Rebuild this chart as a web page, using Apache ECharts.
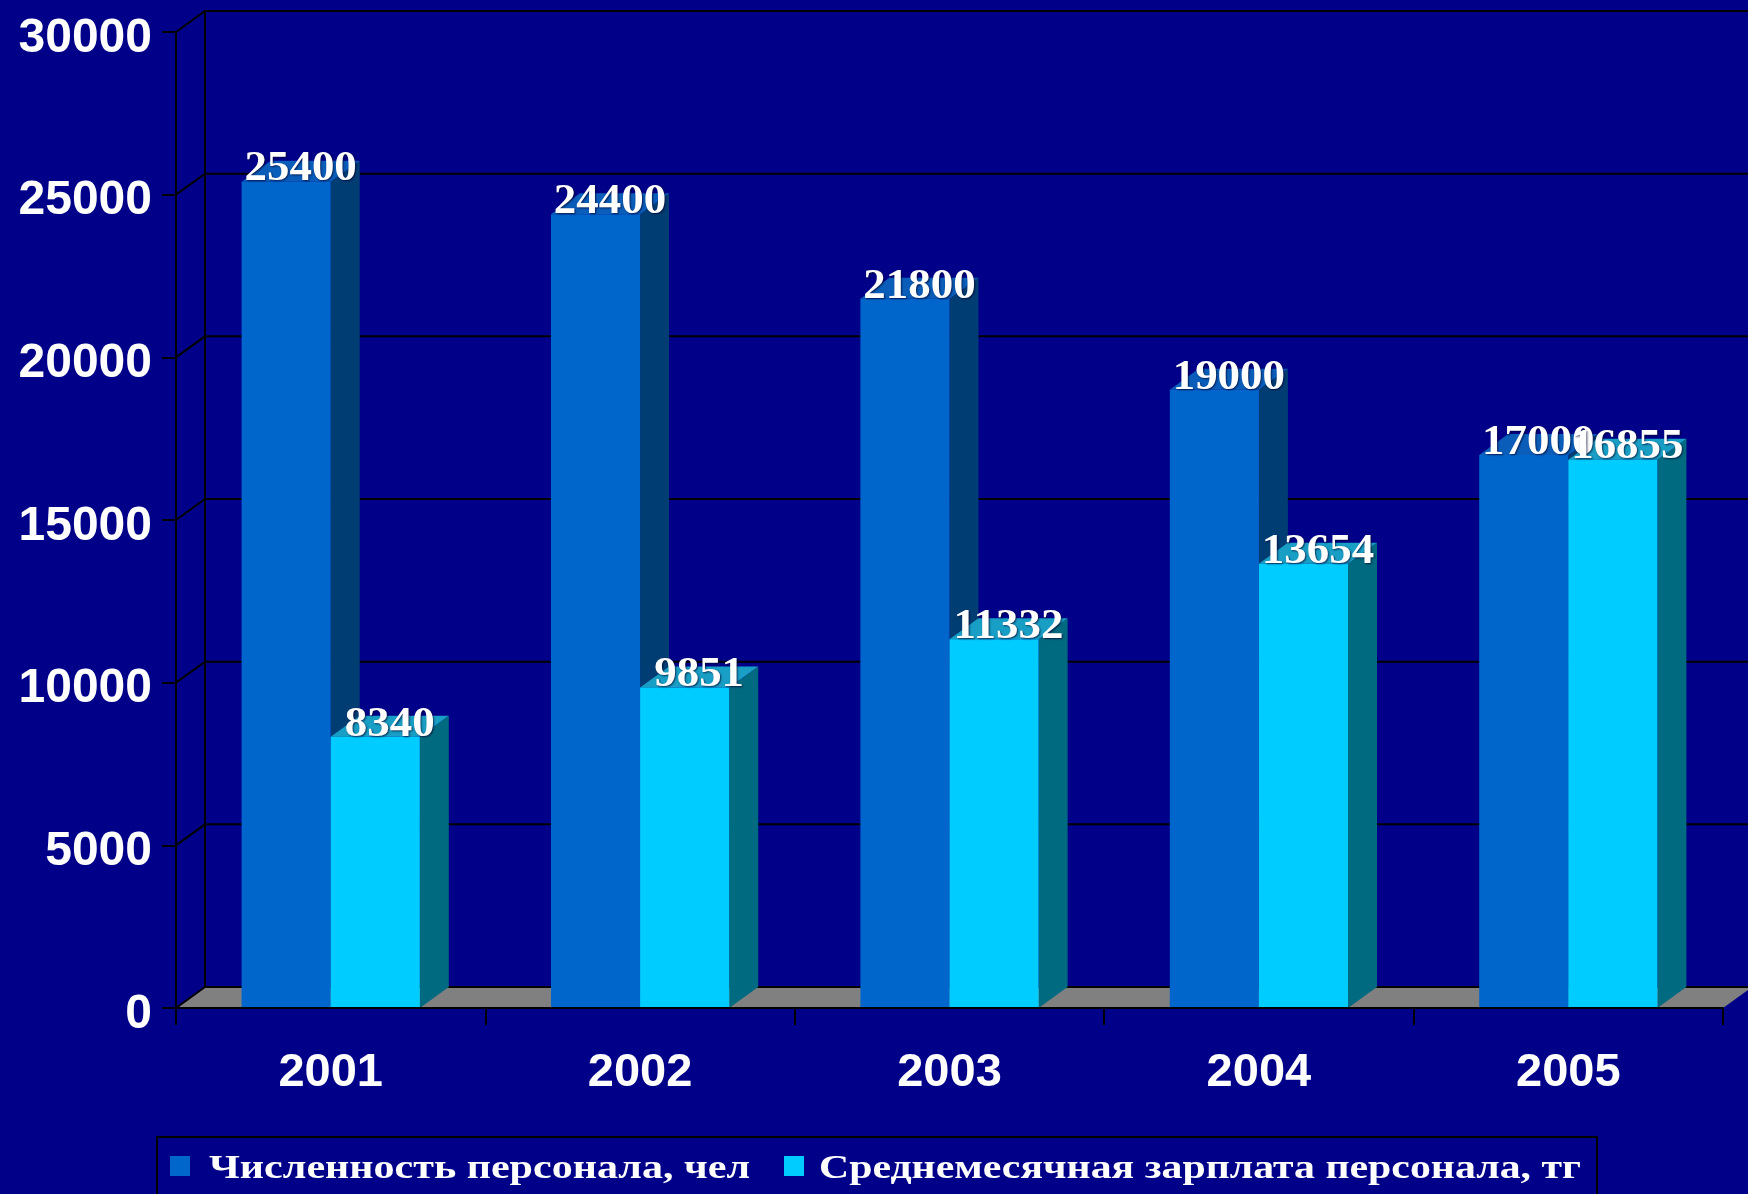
<!DOCTYPE html>
<html>
<head>
<meta charset="utf-8">
<script src="https://cdn.jsdelivr.net/npm/echarts@6/dist/echarts.min.js"></script>
<style>
  html, body { margin: 0; padding: 0; background: #000088; }
  #chart { width: 1748px; height: 1194px; }
</style>
</head>
<body>
<div id="chart"></div>
<script>
// Chart data
const years = ['2001', '2002', '2003', '2004', '2005'];
const staffCount = [25400, 24400, 21800, 19000, 17000];
const avgSalary = [8340, 9851, 11332, 13654, 16855];
const valueTicks = [0, 5000, 10000, 15000, 20000, 25000, 30000];
const seriesNames = ['Численность персонала, чел', 'Среднемесячная зарплата персонала, тг'];

// 3D look: depth offset of the back plane, bar width relative to a category
const DX = 29, DY = -21;
const BAR_RATIO = 0.288;
const BG = '#000088';
const palette = [
  { front: '#0066CC', top: '#0A5EBA', side: '#003D73' },
  { front: '#00CCFF', top: '#199FC5', side: '#006A80' }
];
const TICK_STEP = valueTicks[1] - valueTicks[0];
const VALUE_MAX = valueTicks[valueTicks.length - 1];

// Floor, side wall and back wall with their grid lines
function renderFrame(params, api) {
  const catW = api.size([1, 0])[0];
  const x0 = api.coord([0, 0])[0] - catW / 2;
  const x1 = api.coord([years.length - 1, 0])[0] + catW / 2;
  const yZero = api.coord([0, 0])[1];
  const yTop = api.coord([0, VALUE_MAX])[1];
  const children = [];
  children.push({
    type: 'polygon',
    shape: { points: [[x0, yZero], [x1, yZero], [x1 + DX, yZero + DY], [x0 + DX, yZero + DY]] },
    style: { fill: '#808080' }
  });
  children.push({
    type: 'line',
    shape: { x1: x0 + DX, y1: yTop + DY, x2: x0 + DX, y2: yZero + DY },
    style: { stroke: '#000', lineWidth: 2 }
  });
  valueTicks.forEach(function (v) {
    const y = api.coord([0, v])[1];
    children.push({
      type: 'polyline',
      shape: { points: [[x0, y], [x0 + DX, y + DY], [x1 + DX + 60, y + DY]] },
      style: { stroke: '#000', lineWidth: 2, fill: null }
    });
  });
  return { type: 'group', children: children };
}

// One 3D bar: side face, top face, front face
function barRenderer(idx) {
  return function (params, api) {
    const cat = api.value(0), val = api.value(1);
    const catW = api.size([1, 0])[0];
    const bw = catW * BAR_RATIO;
    const p = api.coord([cat, val]);
    const cx = p[0], yT = p[1];
    const yB = api.coord([cat, 0])[1];
    const left = idx === 0 ? cx - bw : cx;
    const right = left + bw;
    const c = palette[idx];
    return {
      type: 'group',
      children: [
        { type: 'polygon', shape: { points: [[right, yB], [right + DX, yB + DY], [right + DX, yT + DY], [right, yT]] }, style: { fill: c.side } },
        { type: 'polygon', shape: { points: [[left, yT], [right, yT], [right + DX, yT + DY], [left + DX, yT + DY]] }, style: { fill: c.top } },
        { type: 'rect', shape: { x: left, y: yT, width: bw, height: yB - yT }, style: { fill: c.front } }
      ]
    };
  };
}

// Value label sitting on the top face of a bar
function labelRenderer(idx) {
  return function (params, api) {
    const cat = api.value(0), val = api.value(1);
    const catW = api.size([1, 0])[0];
    const bw = catW * BAR_RATIO;
    const p = api.coord([cat, val]);
    const left = idx === 0 ? p[0] - bw : p[0];
    return {
      type: 'text',
      x: left + bw / 2 + DX / 2,
      y: p[1] - 12,
      scaleX: 1.07,
      style: {
        text: String(val),
        fill: '#FFFFFF',
        font: 'bold 42px "Liberation Serif"',
        align: 'center',
        verticalAlign: 'middle',
        textShadowColor: 'rgba(0,0,40,0.7)',
        textShadowBlur: 2,
        textShadowOffsetX: 1,
        textShadowOffsetY: 1
      }
    };
  };
}

function toPairs(arr) { return arr.map(function (v, i) { return [i, v]; }); }

// Legend drawn as a framed strip with horizontally widened serif text
const legendFont = 'bold 34px "Liberation Serif"';
const legendWidths = [541, 762];
const measureCtx = document.createElement('canvas').getContext('2d');
measureCtx.font = legendFont;
function legendScale(i) { return legendWidths[i] / measureCtx.measureText(seriesNames[i]).width; }

const legendItems = [
  { boxX: 170, textX: 209 },
  { boxX: 784, textX: 819 }
];
const legendGraphic = [
  {
    type: 'rect', shape: { x: 157, y: 1137, width: 1440, height: 70 },
    style: { fill: BG, stroke: '#000', lineWidth: 2 }
  }
];
legendItems.forEach(function (it, i) {
  legendGraphic.push({
    type: 'rect', shape: { x: it.boxX, y: 1156, width: 20, height: 20 },
    style: { fill: palette[i].front }
  });
  legendGraphic.push({
    type: 'text', x: it.textX, y: 1169, scaleX: legendScale(i),
    style: { text: seriesNames[i], font: legendFont, fill: '#FFFFFF', verticalAlign: 'middle', align: 'left' }
  });
});

const chart = echarts.init(document.getElementById('chart'), null, { renderer: 'canvas' });
chart.setOption({
  backgroundColor: BG,
  animation: false,
  grid: { left: 176, right: 25, top: 32, bottom: 186 },
  xAxis: {
    type: 'category',
    data: years,
    z: 10,
    axisLine: { lineStyle: { color: '#000', width: 2 } },
    axisTick: { show: true, length: 17, lineStyle: { color: '#000', width: 2 } },
    axisLabel: { color: '#FFFFFF', fontFamily: 'Liberation Sans', fontWeight: 'bold', fontSize: 47, margin: 42 },
    splitLine: { show: false }
  },
  yAxis: {
    type: 'value',
    min: 0,
    max: VALUE_MAX,
    interval: TICK_STEP,
    z: 10,
    axisLine: { show: true, lineStyle: { color: '#000', width: 2 } },
    axisTick: { show: true, length: 14, lineStyle: { color: '#000', width: 2 } },
    axisLabel: {
      color: '#FFFFFF', fontFamily: 'Liberation Sans', fontWeight: 'bold', fontSize: 48, margin: 24,
      verticalAlign: 'top', lineHeight: 13,
      formatter: function (v) { return String(v); }
    },
    splitLine: { show: false }
  },
  graphic: legendGraphic,
  series: [
    { type: 'custom', name: 'frame', z: 1, renderItem: renderFrame, data: [[0, 0]], encode: { x: 0, y: 1 }, silent: true },
    { type: 'custom', name: seriesNames[0], z: 2, renderItem: barRenderer(0), data: toPairs(staffCount), encode: { x: 0, y: 1 } },
    { type: 'custom', name: seriesNames[1], z: 3, renderItem: barRenderer(1), data: toPairs(avgSalary), encode: { x: 0, y: 1 } },
    { type: 'custom', name: 'labels0', z: 5, renderItem: labelRenderer(0), data: toPairs(staffCount), encode: { x: 0, y: 1 }, silent: true },
    { type: 'custom', name: 'labels1', z: 5, renderItem: labelRenderer(1), data: toPairs(avgSalary), encode: { x: 0, y: 1 }, silent: true }
  ]
});
</script>
</body>
</html>
